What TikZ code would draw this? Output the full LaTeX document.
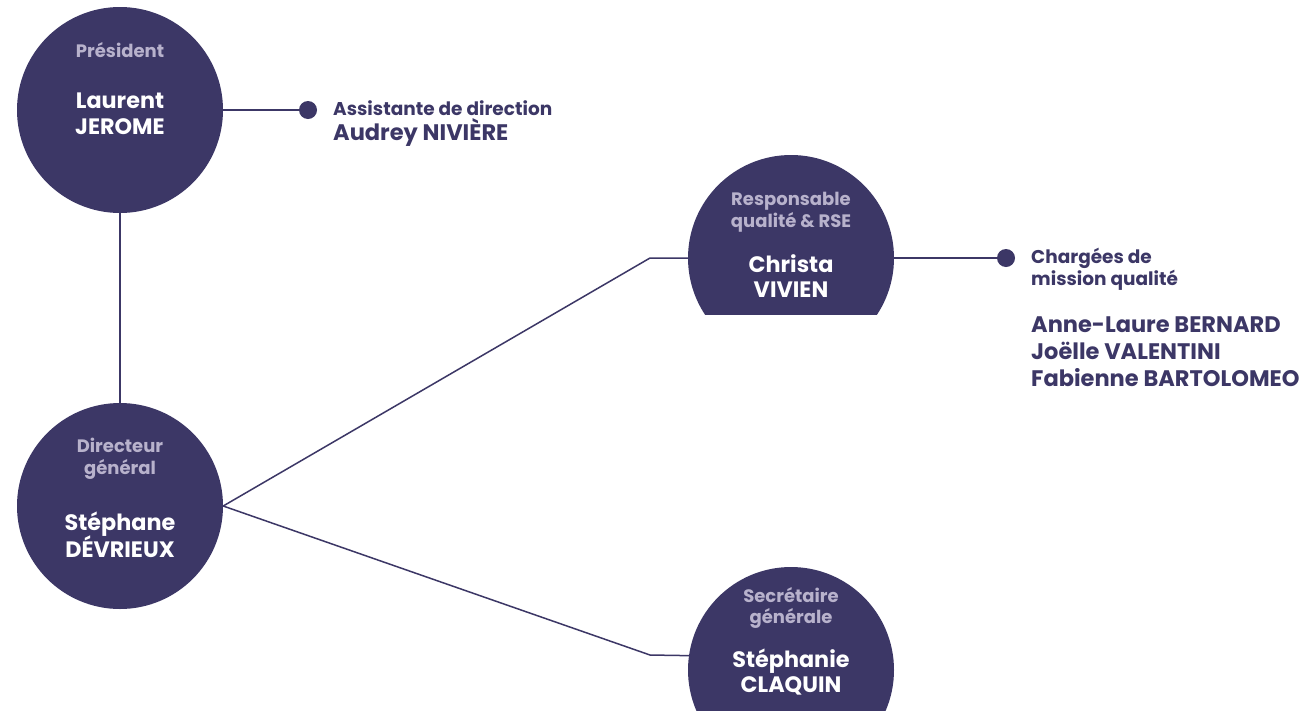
\documentclass[tikz,border=0pt]{standalone}
\usepackage{fontspec}
\setmainfont{Poppins}
\definecolor{navy}{HTML}{3C3766}
\definecolor{lav}{HTML}{B8B2CC}
\begin{document}
\begin{tikzpicture}[x=1pt,y=-1pt,
  person/.style={circle,fill=navy,minimum size=206pt,inner sep=0pt},
  role/.style={text=lav,font=\fontsize{18}{21}\selectfont\bfseries,anchor=base,inner sep=0pt},
  who/.style={text=white,font=\fontsize{22.3}{26}\selectfont\bfseries,anchor=base,inner sep=0pt},
  link/.style={draw=navy,line width=1.5pt},
  dot/.style={circle,fill=navy,minimum size=18pt,inner sep=0pt},
  sidesmall/.style={text=navy,anchor=base west,inner sep=0pt,font=\fontsize{18.5}{22}\selectfont\bfseries},
  sidebig/.style={text=navy,anchor=base west,inner sep=0pt,font=\fontsize{22.5}{26}\selectfont\bfseries}]
\useasboundingbox[fill=white] (0,0) rectangle (1314,710);
\clip (0,0) rectangle (1314,710);
% circles
\node[person] (pres) at (120,110) {};
\node[person] (dir) at (120,506) {};
\begin{scope}
  \clip (600,0) rectangle (1000,314);
  \node[person] (chr) at (791,258) {};
\end{scope}
\node[person] (sec) at (791,670) {};
\node[dot] (d1) at (308,110) {};
\node[dot] (d2) at (1006,258) {};
% connectors
\draw[link] (pres.south) -- (dir.north);
\draw[link] (pres.east) -- (d1);
\draw[link] (dir.east) -- (650,258) -- (chr.west);
\draw[link] (dir.east) -- (650,655) -- (sec.172);
\draw[link] (chr.east) -- (d2);
% circle texts
\node[role] (t1) at (120,57) {Président};
\node[who] (t2) at (120,108) {Laurent};
\node[who] (t3) at (120,134) {JEROME};
\node[role] (t4) at (120,452) {Directeur};
\node[role] (t5) at (120,474) {général};
\node[who] (t6) at (120,530) {Stéphane};
\node[who] (t7) at (120,557) {DÉVRIEUX};
\node[role] (t8) at (791,205) {Responsable};
\node[role] (t9) at (791,227) {qualité \& RSE};
\node[who] (t10) at (791,272) {Christa};
\node[who] (t11) at (791,297) {VIVIEN};
\node[role] (t12) at (791,602) {Secrétaire};
\node[role] (t13) at (791,623) {générale};
\node[who] (t14) at (791,667) {Stéphanie};
\node[who] (t15) at (791,692) {CLAQUIN};
% side texts
\node[sidesmall] (a1) at (333,115) {Assistante de direction};
\node[sidebig] (a2) at (333,140) {Audrey NIVIÈRE};
\node[sidesmall] (c1) at (1031,263) {Chargées de};
\node[sidesmall] (c2) at (1031,285) {mission qualité};
\node[sidebig] (n1) at (1031,332) {Anne-Laure BERNARD};
\node[sidebig] (n2) at (1031,359) {Joëlle VALENTINI};
\node[sidebig] (n3) at (1031,386) {Fabienne BARTOLOMEO};
\end{tikzpicture}
\end{document}
